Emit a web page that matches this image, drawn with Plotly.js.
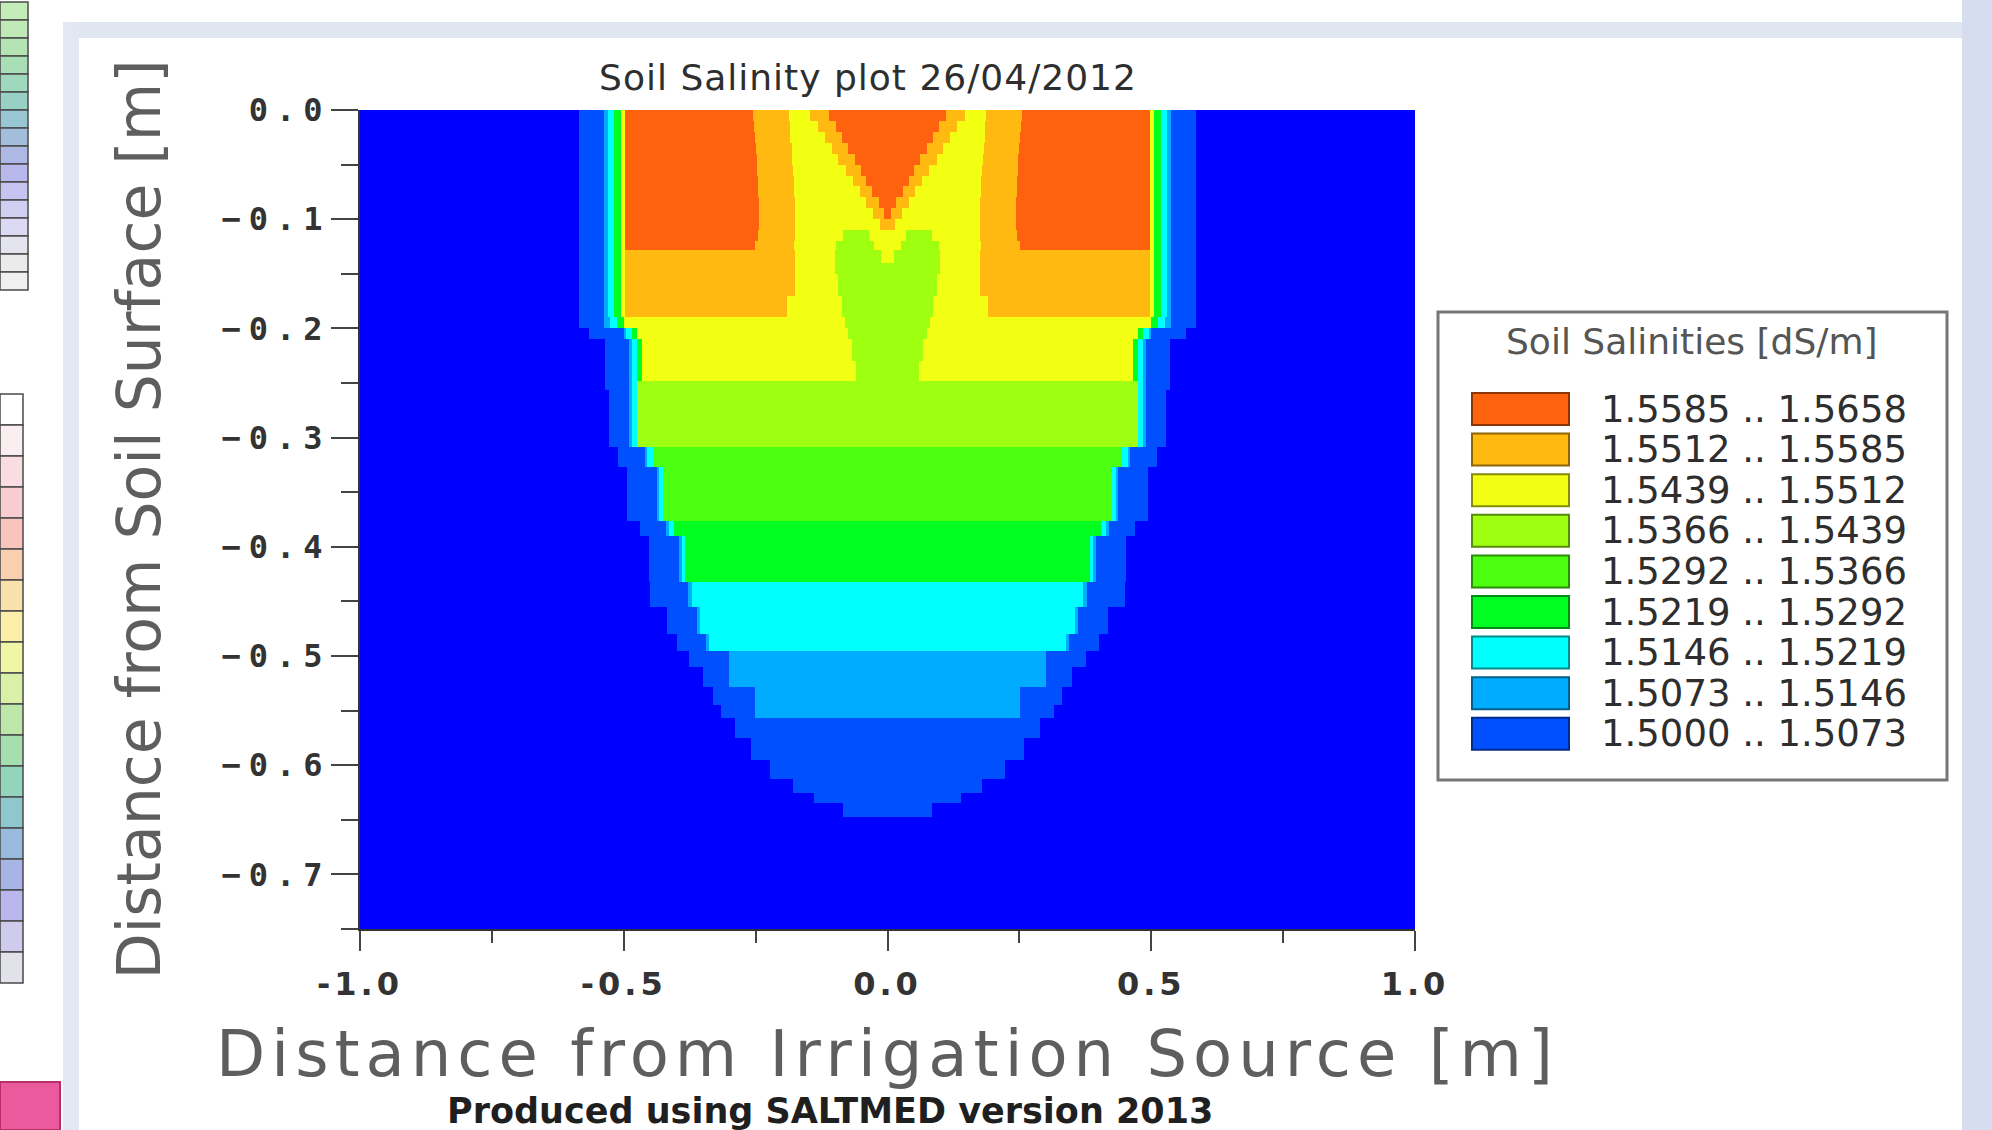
<!DOCTYPE html>
<html>
<head>
<meta charset="utf-8">
<script src="https://cdn.plot.ly/plotly-3.0.1.min.js"></script>
<style>
html,body{margin:0;padding:0;background:#ffffff;}
#chart{width:1992px;height:1130px;}
.xtick text{letter-spacing:4px;}
.ytick text{letter-spacing:8px;}
.g-xtitle text{letter-spacing:6px;}
.g-gtitle text{letter-spacing:1px;}
</style>
</head>
<body>
<div id="chart"></div>
<script>
// ---------------- DATA ----------------
// Salinity class limits of the legend [dS/m]
const binEdges = [1.5000, 1.5073, 1.5146, 1.5219, 1.5292, 1.5366, 1.5439, 1.5512, 1.5585, 1.5658];
const binColors = ['#0050FF', '#00ACFF', '#00FFFF', '#00FF20', '#4CFF10', '#9EFF10', '#F2FF12', '#FFB910', '#FF620F'];
const belowValue = 1.4963;          // soil outside the wetted zone (< 1.5000)
const belowColor = '#0000FF';

// Depth rows (m, soil surface = 0) that bound each band of the raster
const depthEdges = [0, -0.01, -0.02, -0.03, -0.04, -0.05, -0.06, -0.07, -0.08, -0.09, -0.10, -0.11, -0.12,
  -0.128, -0.14, -0.15, -0.17, -0.19, -0.20, -0.21, -0.23, -0.248, -0.256, -0.309, -0.327, -0.376, -0.39,
  -0.432, -0.455, -0.48, -0.495, -0.51, -0.528, -0.545, -0.557, -0.575, -0.595, -0.613, -0.625, -0.635,
  -0.647, -0.75];

// For every depth row: distance from the irrigation source (|x|, m) where each class run ends,
// read outward from the source (profile is mirrored about x = 0)
const runEnds = [
  [0.110, 0.146, 0.186, 0.255, 0.497, 0.505, 0.518, 0.530, 0.537, 0.585],
  [0.098, 0.132, 0.185, 0.254, 0.497, 0.505, 0.518, 0.530, 0.537, 0.585],
  [0.086, 0.119, 0.184, 0.252, 0.497, 0.505, 0.518, 0.530, 0.537, 0.585],
  [0.074, 0.106, 0.182, 0.250, 0.497, 0.505, 0.518, 0.530, 0.537, 0.585],
  [0.062, 0.093, 0.181, 0.248, 0.497, 0.505, 0.518, 0.530, 0.537, 0.585],
  [0.051, 0.079, 0.180, 0.247, 0.497, 0.505, 0.518, 0.530, 0.537, 0.585],
  [0.040, 0.066, 0.178, 0.246, 0.497, 0.505, 0.518, 0.530, 0.537, 0.585],
  [0.029, 0.053, 0.177, 0.245, 0.497, 0.505, 0.518, 0.530, 0.537, 0.585],
  [0.017, 0.040, 0.176, 0.244, 0.497, 0.505, 0.518, 0.530, 0.537, 0.585],
  [0.006, 0.027, 0.175, 0.244, 0.497, 0.505, 0.518, 0.530, 0.537, 0.585],
  [0.014, 0.175, 0.244, 0.497, 0.505, 0.518, 0.530, 0.537, 0.585],
  [0.035, 0.085, 0.176, 0.245, 0.497, 0.505, 0.518, 0.530, 0.537, 0.585],
  [0.025, 0.098, 0.177, 0.252, 0.497, 0.505, 0.518, 0.530, 0.537, 0.585],
  [0.012, 0.100, 0.175, 0.497, 0.505, 0.518, 0.530, 0.537, 0.585],
  [0.100, 0.175, 0.497, 0.505, 0.518, 0.530, 0.537, 0.585],
  [0.094, 0.175, 0.497, 0.505, 0.518, 0.530, 0.537, 0.585],
  [0.086, 0.190, 0.497, 0.505, 0.518, 0.530, 0.537, 0.585],
  [0.080, 0.500, 0.512, 0.526, 0.537, 0.585],
  [0.074, 0.475, 0.485, 0.495, 0.500, 0.565],
  [0.068, 0.465, 0.475, 0.485, 0.490, 0.535],
  [0.060, 0.465, 0.475, 0.485, 0.490, 0.535],
  [0.475, 0.485, 0.490, 0.535],
  [0.475, 0.485, 0.490, 0.528],
  [0.445, 0.455, 0.460, 0.510],
  [0.425, 0.433, 0.437, 0.494],
  [0.405, 0.415, 0.420, 0.470],
  [0.383, 0.390, 0.395, 0.452],
  [0.370, 0.378, 0.450],
  [0.355, 0.362, 0.418],
  [0.338, 0.345, 0.400],
  [0.300, 0.376],
  [0.300, 0.350],
  [0.251, 0.330],
  [0.251, 0.315],
  [0.289],
  [0.258],
  [0.222],
  [0.180],
  [0.140],
  [0.085],
  []
];
// Class of each run: 1..9 = legend classes (1.5000 .. 1.5658), 0 = below 1.5000
const runClasses = [
  [9, 8, 7, 8, 9, 7, 4, 3, 2, 1],
  [9, 8, 7, 8, 9, 7, 4, 3, 2, 1],
  [9, 8, 7, 8, 9, 7, 4, 3, 2, 1],
  [9, 8, 7, 8, 9, 7, 4, 3, 2, 1],
  [9, 8, 7, 8, 9, 7, 4, 3, 2, 1],
  [9, 8, 7, 8, 9, 7, 4, 3, 2, 1],
  [9, 8, 7, 8, 9, 7, 4, 3, 2, 1],
  [9, 8, 7, 8, 9, 7, 4, 3, 2, 1],
  [9, 8, 7, 8, 9, 7, 4, 3, 2, 1],
  [9, 8, 7, 8, 9, 7, 4, 3, 2, 1],
  [8, 7, 8, 9, 7, 4, 3, 2, 1],
  [7, 6, 7, 8, 9, 7, 4, 3, 2, 1],
  [7, 6, 7, 8, 9, 7, 4, 3, 2, 1],
  [7, 6, 7, 8, 7, 4, 3, 2, 1],
  [6, 7, 8, 7, 4, 3, 2, 1],
  [6, 7, 8, 7, 4, 3, 2, 1],
  [6, 7, 8, 7, 4, 3, 2, 1],
  [6, 7, 4, 3, 2, 1],
  [6, 7, 4, 3, 2, 1],
  [6, 7, 4, 3, 2, 1],
  [6, 7, 4, 3, 2, 1],
  [6, 3, 2, 1],
  [6, 3, 2, 1],
  [5, 3, 2, 1],
  [5, 3, 2, 1],
  [4, 3, 2, 1],
  [4, 3, 2, 1],
  [3, 2, 1],
  [3, 2, 1],
  [3, 2, 1],
  [2, 1],
  [2, 1],
  [2, 1],
  [2, 1],
  [1],
  [1],
  [1],
  [1],
  [1],
  [1],
  []
];

const xTickVals = [-1.0, -0.5, 0.0, 0.5, 1.0];
const xTickText = ['-1.0', '-0.5', '0.0', '0.5', '1.0'];
const yTickVals = [0.0, -0.1, -0.2, -0.3, -0.4, -0.5, -0.6, -0.7];
const yTickText = ['0.0', '\u22120.1', '\u22120.2', '\u22120.3', '\u22120.4', '\u22120.5', '\u22120.6', '\u22120.7'];

const titleText = 'Soil Salinity plot 26/04/2012';
const xTitleText = 'Distance from Irrigation Source [m]';
const yTitleText = 'Distance from Soil Surface [m]';
const legendTitleText = 'Soil Salinities [dS/m]';
const footerText = 'Produced using SALTMED version 2013';

// ---------------- BUILD THE RASTER FOR THE HEATMAP ----------------
const xs = new Set([-1, 1]);
runEnds.forEach(r => r.forEach(v => { xs.add(+v.toFixed(4)); xs.add(+(-v).toFixed(4)); }));
const xEdges = Array.from(xs).sort((a, b) => a - b);

function classAt(r, a) {
  const e = runEnds[r];
  for (let j = 0; j < e.length; j++) if (a < e[j]) return runClasses[r][j];
  return 0;
}
const classValue = k => k === 0 ? belowValue : (binEdges[k - 1] + binEdges[k]) / 2;

const nRows = depthEdges.length - 1;
const yEdges = depthEdges.slice().reverse();
const z = [];
for (let i = 0; i < nRows; i++) {
  const r = nRows - 1 - i;
  const row = [];
  for (let c = 0; c < xEdges.length - 1; c++) {
    const a = Math.abs((xEdges[c] + xEdges[c + 1]) / 2);
    row.push(classValue(classAt(r, a)));
  }
  z.push(row);
}

const zLow = belowValue - (binEdges[0] - belowValue);
const zHigh = binEdges[binEdges.length - 1];
const norm = v => (v - zLow) / (zHigh - zLow);
const colorscale = [[0, belowColor], [norm(binEdges[0]), belowColor]];
for (let k = 0; k < binColors.length; k++) {
  colorscale.push([norm(binEdges[k]), binColors[k]]);
  colorscale.push([k === binColors.length - 1 ? 1 : norm(binEdges[k + 1]), binColors[k]]);
}

const heat = {
  type: 'heatmap', x: xEdges, y: yEdges, z: z,
  colorscale: colorscale, zmin: zLow, zmax: zHigh, zsmooth: false, showscale: false,
  hovertemplate: 'x=%{x:.2f} m<br>depth=%{y:.2f} m<br>EC=%{z:.4f} dS/m<extra></extra>'
};

// ---------------- LAYOUT ----------------
const W = 1992, H = 1130;
const mL = 360, mR = 577, mT = 110, mB = 201;
const plotW = W - mL - mR, plotH = H - mT - mB;
const P = px => (px - mL) / plotW;
const Q = py => (H - mB - py) / plotH;

const shapes = [];
const annotations = [];
function rect(x0, y0, x1, y1, fill, lineColor, lineWidth) {
  shapes.push({
    type: 'rect', xref: 'paper', yref: 'paper', layer: 'below',
    x0: P(x0), x1: P(x1), y0: Q(y1), y1: Q(y0),
    fillcolor: fill, line: { color: lineColor || fill, width: lineWidth || 0 }
  });
}
function darker(hex, f) {
  const n = parseInt(hex.slice(1), 16);
  const r = Math.round(((n >> 16) & 255) * f), g = Math.round(((n >> 8) & 255) * f), b = Math.round((n & 255) * f);
  return 'rgb(' + r + ',' + g + ',' + b + ')';
}

// window frame of the screenshot
rect(1962, 0, 1992, 1130, '#d6ddef');
rect(64, 22, 1962, 38, '#e0e5f2');
rect(63, 22, 79, 1130, '#e3e7f4');

// cropped colour keys of neighbouring panels at the left edge
const keyA = ['#c4ecb8', '#bfe9b6', '#b5e4b4', '#a9dfb6', '#9fd8bd', '#98d0c6', '#98c6d2', '#a2bedc',
  '#adb8e4', '#b9b8ec', '#c6c3f0', '#d2d0f2', '#dcdaf2', '#e4e4ee', '#ebebeb', '#f0f0f0'];
keyA.forEach((c, i) => rect(0, 2 + i * 18, 28, 2 + (i + 1) * 18, c, '#4a4a4a', 1.5));
const keyB = ['#ffffff', '#fbeef0', '#f9dde2', '#f7cdd2', '#f8c4bc', '#f9cfb0', '#fae0ac', '#fbeea8',
  '#f1f5a6', '#d9f0a8', '#bde8aa', '#a4dfae', '#93d4bc', '#8ec8cc', '#98badc', '#a9b4e6', '#bbb6ec',
  '#cfcbee', '#e2e2ea'];
keyB.forEach((c, i) => rect(0, 394 + i * 31, 23, 394 + (i + 1) * 31, c, '#4a4a4a', 1.5));
rect(0, 1082, 60, 1130, '#ec5a9e', '#b8306a', 2);

// legend box
rect(1438, 312, 1947, 780, '#ffffff', '#777777', 3);
annotations.push({
  xref: 'paper', yref: 'paper', x: P(1692), y: Q(341), xanchor: 'center', yanchor: 'middle',
  text: legendTitleText, showarrow: false,
  font: { family: 'DejaVu Sans', size: 36, color: '#555555' }
});
for (let i = 0; i < binColors.length; i++) {
  const k = binColors.length - 1 - i;               // highest class on top
  const yc = 409 + 40.6 * i;
  rect(1472, yc - 16, 1569, yc + 16, binColors[k], darker(binColors[k], 0.55), 2);
  annotations.push({
    xref: 'paper', yref: 'paper', x: P(1599), y: Q(yc), xanchor: 'left', yanchor: 'middle',
    text: binEdges[k].toFixed(4) + ' .. ' + binEdges[k + 1].toFixed(4), showarrow: false,
    font: { family: 'DejaVu Sans', size: 37, color: '#2e2e2e' }
  });
}

// footer
annotations.push({
  xref: 'paper', yref: 'paper', x: P(830), y: Q(1111), xanchor: 'center', yanchor: 'middle',
  text: footerText, showarrow: false,
  font: { family: 'DejaVu Sans', size: 35, color: '#1f1f1f', weight: 'bold' }
});

const tickStyle = { ticks: 'outside', tickwidth: 2, tickcolor: '#444444' };

const layout = {
  width: W, height: H,
  margin: { l: mL, r: mR, t: mT, b: mB, pad: 0 },
  paper_bgcolor: '#ffffff', plot_bgcolor: belowColor,
  showlegend: false,
  title: {
    text: titleText, x: P(868), xref: 'paper', xanchor: 'center',
    y: 1 - 77 / H, yref: 'container', yanchor: 'middle',
    font: { family: 'DejaVu Sans', size: 36, color: '#2e2e2e' }
  },
  xaxis: Object.assign({
    range: [-1, 1], tickmode: 'array', tickvals: xTickVals, ticktext: xTickText,
    ticklen: 20, ticklabelstandoff: 6,
    tickfont: { family: 'DejaVu Sans', size: 32, color: '#333333', weight: 'bold' },
    minor: { tick0: -1, dtick: 0.25, ticks: 'outside', ticklen: 12, tickwidth: 2, tickcolor: '#444444' },
    showgrid: false, zeroline: false, showline: true, linecolor: '#333333', linewidth: 2,
    title: { text: xTitleText, standoff: 29, font: { family: 'DejaVu Sans', size: 64, color: '#5e5e5e' } }
  }, tickStyle),
  yaxis: Object.assign({
    range: [-0.75, 0], tickmode: 'array', tickvals: yTickVals, ticktext: yTickText,
    ticklen: 27, ticklabelstandoff: -6,
    tickfont: { family: 'DejaVu Sans Mono', size: 32, color: '#333333', weight: 'bold' },
    minor: { tick0: 0, dtick: 0.05, ticks: 'outside', ticklen: 17, tickwidth: 2, tickcolor: '#444444' },
    showgrid: false, zeroline: false, showline: true, linecolor: '#333333', linewidth: 2,
    title: { text: yTitleText, standoff: 42, font: { family: 'DejaVu Sans', size: 60, color: '#5e5e5e' } }
  }, tickStyle),
  shapes: shapes,
  annotations: annotations
};

Plotly.newPlot('chart', [heat], layout, { staticPlot: true, displayModeBar: false });
</script>
</body>
</html>
